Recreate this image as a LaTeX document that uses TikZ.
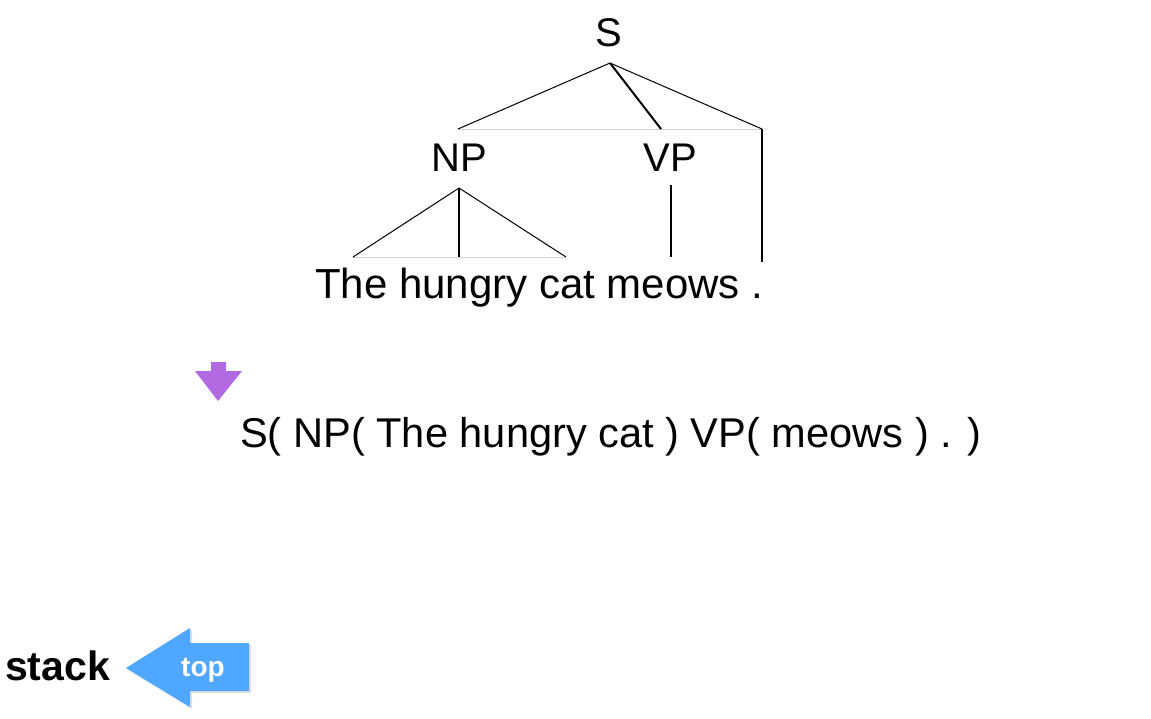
\documentclass[tikz,border=0pt]{standalone}
\usepackage{fontspec}
\setmainfont{Liberation Sans}
\usetikzlibrary{calc}
\definecolor{arrowpurple}{RGB}{178,106,226}
\definecolor{arrowblue}{RGB}{80,167,255}
\colorlet{barline}{gray!35}
\tikzset{
    label/.style={font=\fontsize{40}{40}\selectfont, inner sep=0pt},
    leaf/.style={font=\fontsize{42}{42}\selectfont, inner sep=0pt},
    branch/.style={black, line width=1pt},
}
\begin{document}
\begin{tikzpicture}[x=1pt,y=-1pt]
            \useasboundingbox (0,0) rectangle (1151,718);
            % coordinates
            \coordinate (stop) at (610,63); % S attach point
            \coordinate (nptop) at (458,129);
            \coordinate (vptop) at (661,129);
            \coordinate (dottop) at (762,129);
            \coordinate (npbot) at (459,188);
            \coordinate (thebot) at (353,257);
            \coordinate (hungrybot) at (459,257);
            \coordinate (catbot) at (566,257);
            \coordinate (vpbot) at (671,185);
            \coordinate (meowsbot) at (671,257);
            \coordinate (dotbot) at (762,262);
            % labels
            \node[label] (S) at (609,33) {S};
            \node[label] (NP) at (459,158) {NP};
            \node[label] (VP) at (670,158) {VP};
            \node[leaf, anchor=base west] (words) at (315,298) {The hungry cat meows .};
            % bars
            \draw[barline, very thin] (nptop) -- (dottop);
            \draw[barline, very thin] (thebot) -- (catbot);
            % branches from S
            \draw[branch] (stop) -- (nptop);
            \draw[branch, line width=2pt] (stop) -- (vptop);
            \draw[branch] (stop) -- (dottop);
            \draw[branch, line width=1.5pt] (dottop) -- (dotbot);
            % branches from NP and VP
            \draw[branch] (npbot) -- (thebot);
            \draw[branch, line width=1.5pt] (npbot) -- (hungrybot);
            \draw[branch] (npbot) -- (catbot);
            \draw[branch, line width=2pt] (vpbot) -- (meowsbot);
            % purple arrow
            \fill[arrowpurple] (211,362) -- (226,362) -- (226,371) -- (242,371)
                -- (218,401) -- (195,371) -- (211,371) -- cycle;
            % bracketed line
            \node[font=\fontsize{41.6}{41.6}\selectfont, inner sep=0pt, anchor=base west] (brackets) at (240,447) {S( NP( The hungry cat ) VP( meows ) . )};
            % stack pointer
            \node[font=\fontsize{41}{41}\selectfont\bfseries, inner sep=0pt, anchor=base west] (stack) at (5,680) {stack};
            \fill[black!25, opacity=0.5] (128,670) -- (192,630) -- (192,645) -- (251,645)
                -- (251,693) -- (192,693) -- (192,709) -- cycle;
            \fill[arrowblue] (126,668) -- (190,628) -- (190,643) -- (249,643)
                -- (249,691) -- (190,691) -- (190,707) -- cycle;
            \node[font=\fontsize{28}{28}\selectfont\bfseries, text=white, inner sep=0pt] (top) at (203,670) {top};
\end{tikzpicture}
\end{document}
